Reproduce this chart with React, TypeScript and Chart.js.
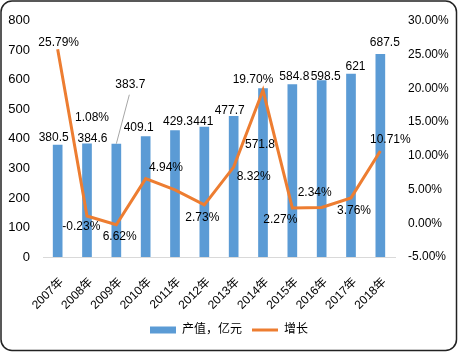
import React, { useEffect, useRef } from "react";
import { Chart, registerables } from "chart.js";

Chart.register(...registerables);

const categories = ["2007年", "2008年", "2009年", "2010年", "2011年", "2012年", "2013年", "2014年", "2015年", "2016年", "2017年", "2018年"];
const outputValues = [380.5, 384.6, 383.7, 409.1, 429.3, 441, 477.7, 571.8, 584.8, 598.5, 621, 687.5];
const outputLabels = ["380.5", "384.6", "383.7", "409.1", "429.3", "441", "477.7", "571.8", "584.8", "598.5", "621", "687.5"];
const growthValues = [25.79, 1.08, -0.23, 6.62, 4.94, 2.73, 8.32, 19.7, 2.27, 2.34, 3.76, 10.71];
const growthLabels = ["25.79%", "1.08%", "-0.23%", "6.62%", "4.94%", "2.73%", "8.32%", "19.70%", "2.27%", "2.34%", "3.76%", "10.71%"];
const seriesNames = ["产值，亿元", "增长"];
const leftAxis = { min: 0, max: 800, step: 100 };
const rightAxis = { min: -5, max: 30, step: 5 };

// label placement (style, not data)
const barLabelOffsets: [number, number][] = [
  [-4, -6.5], [5.5, -5], [14, -59], [-7, -8.7], [3, -9], [-1, -5.6],
  [-4, -5.5], [-3, 57], [2, -8], [4, -4], [4.5, -7], [4.5, -11],
];
const leaderLineIndex = 2;
const lineLabelOffsets: [number, number][] = [
  [1, -7], [5, -98], [-35, 2], [-26, 58], [-9, -22], [-2, 13],
  [20, 10], [-10, -11], [-12, 12], [-7, -15], [3, 13], [10, -11],
];

const BLUE = "#5B9BD5";
const ORANGE = "#ED7D31";
const FONT = '"Liberation Sans", Arial, "Noto Sans CJK SC", sans-serif';

const labelPlugin = {
  id: "customLabels",
  afterDatasetsDraw(chart: any) {
    const ctx = chart.ctx;
    ctx.save();
    ctx.font = `12px ${FONT}`;
    ctx.fillStyle = "#000";
    ctx.textAlign = "center";
    ctx.textBaseline = "middle";
    const barMeta = chart.getDatasetMeta(0);
    barMeta.data.forEach((el: any, i: number) => {
      const [dx, dy] = barLabelOffsets[i];
      const x = el.x + dx;
      const y = el.y + dy;
      if (i === leaderLineIndex) {
        ctx.save();
        ctx.strokeStyle = "#A6A6A6";
        ctx.lineWidth = 1;
        ctx.beginPath();
        ctx.moveTo(x - 1, y + 10);
        ctx.lineTo(el.x, el.y);
        ctx.stroke();
        ctx.restore();
      }
      ctx.fillText(outputLabels[i], x, y);
    });
    const lineMeta = chart.getDatasetMeta(1);
    lineMeta.data.forEach((el: any, i: number) => {
      const [dx, dy] = lineLabelOffsets[i];
      ctx.fillText(growthLabels[i], el.x + dx, el.y + dy);
    });
    ctx.restore();
  },
  afterDraw(chart: any) {
    const ctx = chart.ctx;
    ctx.save();
    ctx.strokeStyle = "#222";
    ctx.lineWidth = 1.5;
    ctx.beginPath();
    ctx.roundRect(1, 1, chart.width - 2.5, chart.height - 2.5, 11);
    ctx.stroke();
    ctx.restore();
  },
};

export default function App() {
  const canvasRef = useRef<HTMLCanvasElement | null>(null);

  useEffect(() => {
    if (!canvasRef.current) return;
    const chart = new Chart(canvasRef.current, {
      type: "bar",
      data: {
        labels: categories,
        datasets: [
          {
            type: "bar",
            label: seriesNames[0],
            data: outputValues,
            backgroundColor: BLUE,
            borderWidth: 0,
            yAxisID: "y",
            order: 1,
            categoryPercentage: 1,
            barPercentage: 0.33,
          } as any,
          {
            type: "line",
            label: seriesNames[1],
            data: growthValues,
            borderColor: ORANGE,
            backgroundColor: ORANGE,
            borderWidth: 3,
            pointRadius: 0,
            tension: 0,
            yAxisID: "y1",
            order: 0,
          } as any,
        ],
      },
      options: {
        responsive: false,
        animation: false,
        devicePixelRatio: 1,
        layout: { padding: { top: 15, left: 0, right: 0, bottom: 6 } },
        plugins: {
          tooltip: { enabled: false },
          legend: {
            position: "bottom",
            labels: {
              usePointStyle: true,
              pointStyleWidth: 26,
              boxHeight: 7,
              padding: 10,
              color: "#000",
              font: { size: 12, family: FONT },
              sort: (a: any, b: any) => a.datasetIndex - b.datasetIndex,
              generateLabels: (chart: any) => {
                const items = (Chart.defaults.plugins.legend.labels as any).generateLabels(chart);
                items.forEach((it: any) => {
                  if (it.datasetIndex === 0) {
                    it.pointStyle = "rect";
                    it.lineWidth = 0;
                    it.fillStyle = BLUE;
                  } else {
                    it.pointStyle = "line";
                    it.lineWidth = 3;
                    it.strokeStyle = ORANGE;
                  }
                });
                return items;
              },
            },
          },
        },
        scales: {
          x: {
            offset: true,
            grid: { display: false, drawTicks: false },
            border: { display: true, color: "#D9D9D9", width: 1 },
            ticks: {
              color: "#000",
              font: { size: 12, family: FONT },
              minRotation: 45,
              maxRotation: 45,
              autoSkip: false,
              padding: 18,
              labelOffset: 4,
            },
            afterFit: (scale: any) => {
              scale.height = 57;
            },
          },
          y: {
            position: "left",
            min: leftAxis.min,
            max: leftAxis.max,
            grid: { display: false, drawTicks: false },
            border: { display: false },
            ticks: {
              stepSize: leftAxis.step,
              color: "#000",
              font: { size: 13, family: FONT },
              padding: 13,
            },
            afterFit: (scale: any) => {
              scale.width = 43;
            },
          },
          y1: {
            position: "right",
            min: rightAxis.min,
            max: rightAxis.max,
            grid: { display: false, drawTicks: false },
            border: { display: false },
            ticks: {
              stepSize: rightAxis.step,
              color: "#000",
              font: { size: 12, family: FONT },
              padding: 13,
              callback: (v: any) => Number(v).toFixed(2) + "%",
            },
            afterFit: (scale: any) => {
              scale.width = 63;
            },
          },
        },
      },
      plugins: [labelPlugin],
    });
    return () => chart.destroy();
  }, []);

  return (
    <div style={{ position: "absolute", left: 0, top: 0, width: 458, height: 352, background: "#fff" }}>
      <canvas ref={canvasRef} width={458} height={352} style={{ width: 458, height: 352, display: "block" }} />
    </div>
  );
}
